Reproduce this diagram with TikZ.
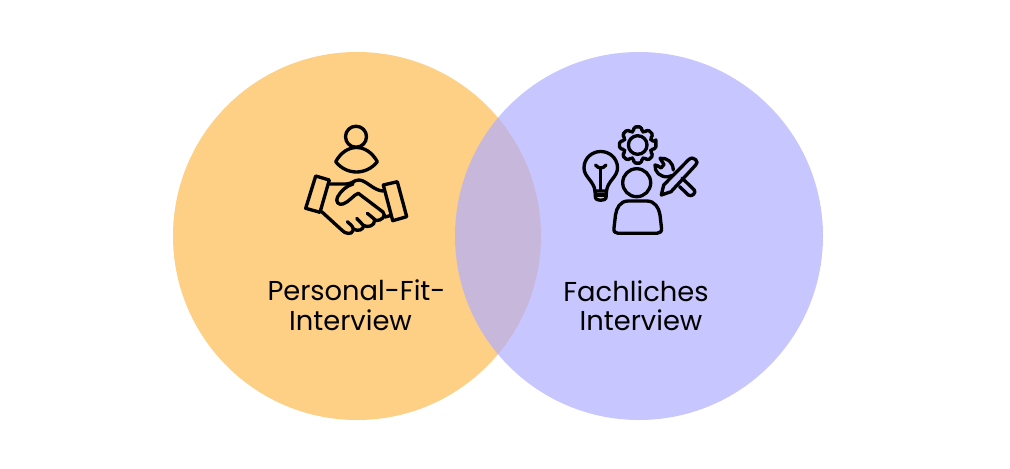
\documentclass[tikz,border=0pt]{standalone}
\usepackage{fontspec}
\setmainfont{Poppins}
\tikzset{every picture/.style={line width=0.75pt}}
\tikzset{
	icon line/.style={line width=2.5pt, line cap=round, line join=round},
	label text/.style={inner sep=0pt, font=\fontsize{20.5}{24}\selectfont}}

\begin{document}
\begin{tikzpicture}[x=0.75pt,y=0.75pt,yscale=-1,xscale=1]
	\useasboundingbox (0,0) rectangle (1010,468);

	%Shape: Circle left
	\fill [fill={rgb, 255:red, 253; green, 208; blue, 133 }] (357,236) circle (184);
	%Shape: Circle right
	\fill [fill={rgb, 255:red, 178; green, 174; blue, 255 }, fill opacity=0.71] (639,236) circle (184);

	%Shape: Person above handshake
	\draw [icon line] (356,136.7) circle (10.5);
	\draw [icon line] (335.7,161.7) .. controls (341,152) and (349,147.5) .. (356.5,147.5) .. controls (364,147.5) and (372,152) .. (377.3,161.7) .. controls (372,168.5) and (364,172) .. (356.5,172) .. controls (349,172) and (341,168.5) .. (335.7,161.7) -- cycle;
	%Shape: Cuffs
	\draw [icon line] (315.7,176) -- (329.3,180) -- (320,212.3) -- (305.7,208.3) -- cycle;
	\draw [icon line] (383.3,185) -- (397.3,181.7) -- (406.7,216.7) -- (392.7,220.7) -- cycle;
	%Shape: Hands
	\draw [icon line] (329.3,184) -- (346,184) .. controls (352,184) and (354,180) .. (359,180) .. controls (366,180) and (374,191) .. (383.3,191);
	\draw [icon line] (353,184) .. controls (346,186) and (341,191) .. (337.5,197) .. controls (335,202) and (339,205.5) .. (343,204) .. controls (349,202) and (354,194.5) .. (358.3,193.3) -- (383,212) .. controls (387,216) and (381,221) .. (376,220.5) -- (367.3,213.3);
	\draw [icon line] (390,215.7) -- (385,217);
	\draw [icon line] (321.7,211.7) -- (341.7,230) .. controls (345,234) and (352,235) .. (353,230.5) .. controls (354,227) and (351,225) .. (347.3,221.7);
	\draw [icon line] (353.5,229) .. controls (358,232) and (364,229.5) .. (363.5,225.5) -- (356.7,218.3);
	\draw [icon line] (363.5,225.5) .. controls (368,228) and (375,225.5) .. (374.5,220.5);

	%Shape: Lightbulb
	\draw [icon line] (595,191) .. controls (594,181) and (584,177) .. (584,168) .. controls (584,158) and (592,151.5) .. (600.7,151.5) .. controls (609.5,151.5) and (617.5,158) .. (617.5,168) .. controls (617.5,177) and (607.5,181) .. (606.5,191) -- cycle;
	\draw [icon line] (595,191) -- (595.5,198) .. controls (596,201) and (605.5,201) .. (606,198) -- (606.5,191);
	\draw [icon line] (595.5,195) -- (606,195);
	\draw [icon line] (600.7,190) -- (600.7,168);
	\draw [icon line] (595.5,165) .. controls (597,167) and (599,168) .. (600.7,168) .. controls (602.5,168) and (604.5,167) .. (606,165);

	%Shape: Gear
	\draw [icon line, shift={(637.7,145)}, rounded corners=1.2pt] (-11:18.5) \foreach \a in {0,45,...,315} { -- (\a-11:18.5) -- (\a+11:18.5) -- (\a+18:14.2) -- (\a+27:14.2) } -- cycle;
	\draw [icon line] (637.7,145) circle (9.3);

	%Shape: Person
	\draw [icon line] (636.7,182.7) circle (14);
	\draw [icon line] (628.3,201) -- (646.7,201) .. controls (655,201) and (659,208) .. (660,215) -- (661.5,228) .. controls (662,231.5) and (660,233.3) .. (657,233.3) -- (618,233.3) .. controls (615,233.3) and (613.5,231.5) .. (614,228) -- (615.5,215) .. controls (616.5,208) and (620,201) .. (628.3,201) -- cycle;

	%Shape: Pencil
	\draw [icon line] (661.3,195) -- (663.7,185) -- (688.3,160) .. controls (691,157.5) and (693.5,157.5) .. (695.5,159.5) .. controls (697.5,161.5) and (697.5,163) .. (695.7,165) -- (671,191.7) -- cycle;
	%Shape: Wrench
	\draw [icon line] (673.3,170) .. controls (673,162) and (667,157.5) .. (660,158.3) -- (664,164.5) -- (661,168) .. controls (659,166.5) and (657,165) .. (655,165) .. controls (654.5,172) and (660,177.5) .. (668.3,176.7) -- (672,175.5);
	\draw [icon line] (682,178) -- (694.3,190) .. controls (696.5,192.5) and (692,197.5) .. (688.3,195) -- (679.5,186.5);

	% Text Node
	\node [label text] (personalA) at (356.5,290) {Personal-Fit-};
	% Text Node
	\node [label text] (personalB) at (350.5,320) {Interview};
	% Text Node
	\node [label text] (fachlichA) at (636,291) {Fachliches};
	% Text Node
	\node [label text] (fachlichB) at (641,320) {Interview};

\end{tikzpicture}
\end{document}
